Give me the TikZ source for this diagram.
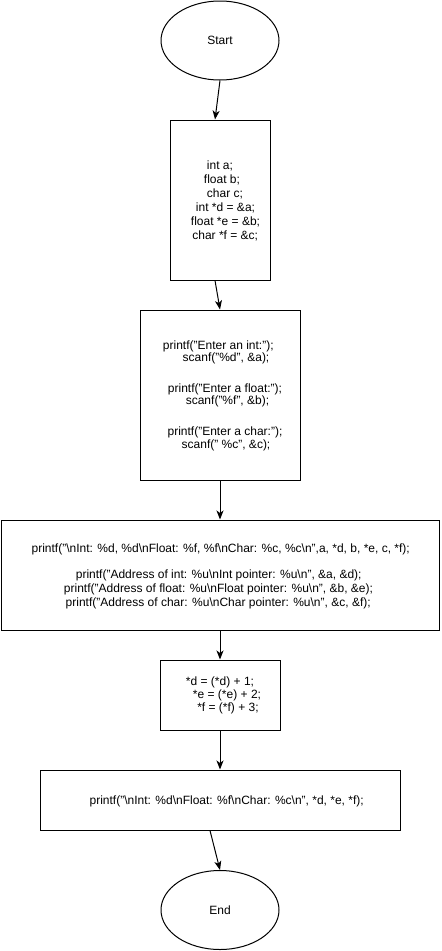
\documentclass[tikz,border=0pt]{standalone}
\usepackage{fontspec}
\setmainfont{Liberation Sans}
\usetikzlibrary{shapes.geometric,arrows.meta}
\newcommand\bsl{\textbackslash}
\begin{document}
\begin{tikzpicture}[x=1pt,y=-1pt,
  term/.style={draw, ellipse, line width=1pt, minimum width=118pt, minimum height=79pt, inner sep=0pt, font=\fontsize{12}{14.4}\selectfont},
  proc/.style={draw, rectangle, line width=1pt, inner sep=0pt},
  txt/.style={inner sep=0pt, anchor=base, font=\fontsize{12}{14.4}\selectfont},
  flow/.style={line width=1pt, -{Stealth[length=9pt,width=7pt,inset=2.5pt]}}]
\useasboundingbox (0,0) rectangle (442,951);
% shapes
\node[term] (start) at (220,40.5) {Start};
\node[proc, minimum width=100pt, minimum height=160pt] (b1) at (220,200) {};
\node[proc, minimum width=160pt, minimum height=170pt] (b2) at (220,395) {};
\node[proc, minimum width=438pt, minimum height=110pt] (b3) at (220,575) {};
\node[proc, minimum width=120pt, minimum height=70pt] (b4) at (220,695) {};
\node[proc, minimum width=360pt, minimum height=60pt] (b5) at (220,800) {};
\node[term] (end) at (220,910) {End};
% box 1 text
\node[txt] (b1a) at (220,169) {int a;};
\node[txt] (b1b) at (222,183) {float b;};
\node[txt] (b1c) at (225,197) {char c;};
\node[txt] (b1d) at (225.5,211) {int *d = \&a;};
\node[txt] (b1e) at (225.5,225) {float *e = \&b;};
\node[txt] (b1f) at (225.2,239) {char *f = \&c;};
% box 2 text
\node[txt] (b2a) at (218.3,349) {printf("Enter an int:");};
\node[txt] (b2b) at (226,361.5) {scanf("\%d", \&a);};
\node[txt] (b2c) at (225,392) {printf("Enter a float:");};
\node[txt] (b2d) at (227.5,404.5) {scanf("\%f", \&b);};
\node[txt] (b2e) at (225,435.5) {printf("Enter a char:");};
\node[txt] (b2f) at (226,448) {scanf(" \%c", \&c);};
% box 3 text
\node[txt] (b3a) at (220.7,552) {printf("\bsl nInt: \%d, \%d\bsl nFloat: \%f, \%f\bsl nChar: \%c, \%c\bsl n",a, *d, b, *e, c, *f);};
\node[txt] (b3b) at (218.7,578) {printf("Address of int: \%u\bsl nInt pointer: \%u\bsl n", \&a, \&d);};
\node[txt] (b3c) at (218.5,592) {printf("Address of float: \%u\bsl nFloat pointer: \%u\bsl n", \&b, \&e);};
\node[txt] (b3d) at (218.2,606) {printf("Address of char: \%u\bsl nChar pointer: \%u\bsl n", \&c, \&f);};
% box 4 text
\node[txt] (b4a) at (220,685) {*d = (*d) + 1;};
\node[txt] (b4b) at (227,698) {*e = (*e) + 2;};
\node[txt] (b4c) at (228,711) {*f = (*f) + 3;};
% box 5 text
\node[txt] (b5a) at (226.7,804) {printf("\bsl nInt: \%d\bsl nFloat: \%f\bsl nChar: \%c\bsl n", *d, *e, *f);};
% connectors
\draw[flow] (start.south) -- ([xshift=-5pt]b1.north);
\draw[flow] ([xshift=-5pt]b1.south) -- (b2.north);
\draw[flow] (b2.south) -- (b3.north);
\draw[flow] (b3.south) -- (b4.north);
\draw[flow] (b4.south) -- (b5.north);
\draw[flow] ([xshift=-10pt]b5.south) -- (end.north);
\end{tikzpicture}
\end{document}
